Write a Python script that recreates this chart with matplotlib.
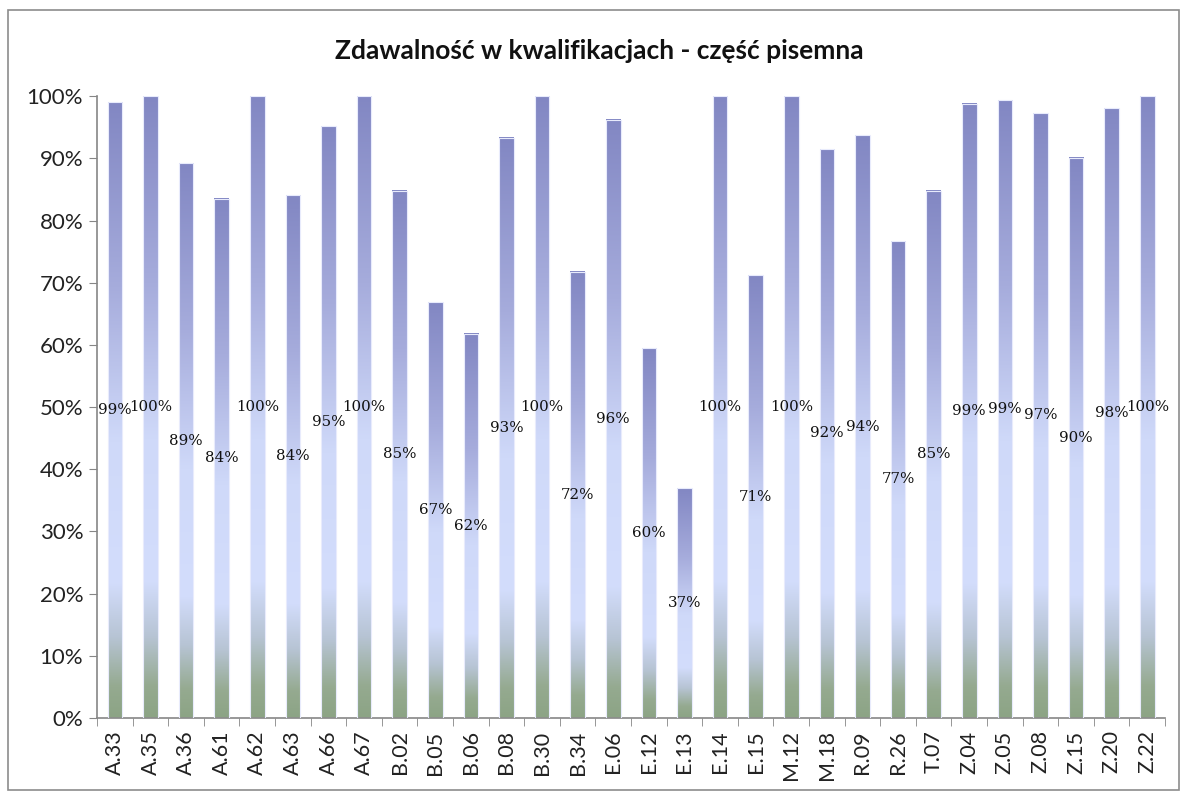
import numpy as np
import matplotlib
matplotlib.use("Agg")
import matplotlib.pyplot as plt
from matplotlib.colors import LinearSegmentedColormap
from matplotlib.patches import Rectangle

categories = ["A.33", "A.35", "A.36", "A.61", "A.62", "A.63", "A.66", "A.67",
              "B.02", "B.05", "B.06", "B.08", "B.30", "B.34", "E.06", "E.12",
              "E.13", "E.14", "E.15", "M.12", "M.18", "R.09", "R.26", "T.07",
              "Z.04", "Z.05", "Z.08", "Z.15", "Z.20", "Z.22"]
values = [99.0, 100.0, 89.2, 83.5, 100.0, 84.1, 95.2, 100.0,
          84.8, 66.9, 61.8, 93.3, 100.0, 71.8, 96.2, 59.5,
          36.9, 100.0, 71.2, 100.0, 91.5, 93.7, 76.7, 84.8,
          98.8, 99.4, 97.3, 90.1, 98.1, 100.0]
yticks = [0, 10, 20, 30, 40, 50, 60, 70, 80, 90, 100]
title = "Zdawalność w kwalifikacjach - część pisemna"

plt.rcParams["font.family"] = ["Lato", "DejaVu Sans"]

fig = plt.figure(figsize=(11.84, 7.95), dpi=100)
ax = fig.add_axes([0.082, 0.097, 0.902, 0.782])

# outer chart frame like the Excel chart area
fig.patches.append(Rectangle((0.007, 0.006), 0.989, 0.981, transform=fig.transFigure,
                             fill=False, edgecolor="#8c8c8c", linewidth=1.2))

cmap = LinearSegmentedColormap.from_list("grad", [
    (0.0, "#8ca485"), (0.05, "#95aa90"), (0.13, "#b7c4d4"), (0.22, "#d3ddfc"),
    (0.45, "#cfd9f9"), (0.7, "#a6acdc"), (1.0, "#8287c3")])
grad = np.linspace(0, 1, 256).reshape(-1, 1)

x = np.arange(len(categories))
bars = ax.bar(x, values, width=0.41, color="none", edgecolor="#e8ebfc",
              linewidth=0.8, zorder=3)
for b, v in zip(bars, values):
    x0, w, h = b.get_x(), b.get_width(), b.get_height()
    ax.imshow(grad, extent=[x0, x0 + w, 0, h], origin="lower", aspect="auto",
              cmap=cmap, zorder=2, interpolation="bilinear")
    ax.text(b.get_x() + w / 2, h / 2, "%d%%" % round(v), ha="center", va="center",
            fontsize=10.8, family="DejaVu Serif", color="#111111", zorder=4)

ax.set_xlim(-0.5, len(categories) - 0.5)
ax.set_ylim(0, 100)
ax.set_yticks(yticks)
ax.set_yticklabels(["%d%%" % t for t in yticks], fontsize=16, color="#222222")
ax.set_xticks(x)
ax.set_xticklabels(categories, rotation=90, fontsize=15.5, color="#222222")
ax.set_xticks(np.arange(-0.5, len(categories)), minor=True)
ax.tick_params(axis="x", which="major", length=0, pad=9)
ax.tick_params(axis="x", which="minor", length=6, color="#868686", direction="out")
ax.tick_params(axis="y", length=6, color="#868686", direction="out", pad=4)

for s in ["top", "right"]:
    ax.spines[s].set_visible(False)
for s in ["left", "bottom"]:
    ax.spines[s].set_color("#868686")
    ax.spines[s].set_linewidth(1.2)

fig.text(0.506, 0.936, title, ha="center", va="center", fontsize=19,
         fontweight="bold", color="#111111")

fig.savefig("out.png", dpi=100)
